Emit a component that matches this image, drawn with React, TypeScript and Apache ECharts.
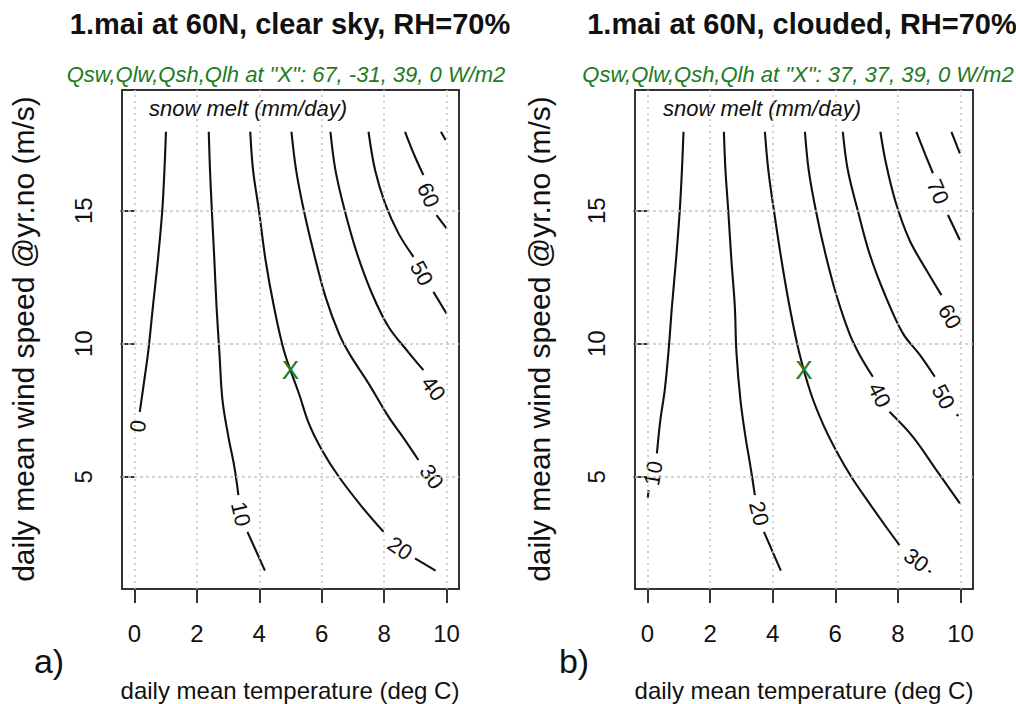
import React, { useEffect, useRef } from "react";
import * as echarts from "echarts";

// Axis ticks
const tempTicks = [0, 2, 4, 6, 8, 10];
const windTicks = [5, 10, 15];

// The "X" point (temperature, wind speed) used for the flux subtitle
const markerPoint = [5, 9];

// Panel a) clear sky: contour segments of snow melt, [temperature, wind speed]
const clear0 = [[1.01, 17.97], [0.96, 16.53], [0.89, 15.0], [0.75, 13.15], [0.59, 11.39], [0.44, 9.7], [0.33, 8.76], [0.17, 7.44]];
const clear10a = [[2.38, 17.97], [2.42, 16.53], [2.48, 15.0], [2.56, 13.15], [2.63, 11.39], [2.72, 9.7], [2.82, 7.88], [3.01, 6.5], [3.2, 5.38], [3.33, 4.31]];
const clear10b = [[3.62, 2.93], [4.18, 1.47]];
const clear20a = [[3.71, 17.97], [3.8, 16.53], [3.99, 15.0], [4.2, 13.15], [4.47, 11.39], [4.8, 9.7], [5.27, 8.13], [5.59, 7.0], [6.01, 6.0], [6.55, 5.0], [7.29, 3.87], [7.98, 2.93]];
const clear20b = [[8.99, 1.93], [9.65, 1.47]];
const clear30 = [[5.03, 17.97], [5.18, 16.53], [5.43, 15.0], [5.75, 13.4], [6.12, 11.77], [6.55, 10.39], [6.9, 9.6], [7.5, 8.51], [8.14, 7.26], [8.67, 6.38], [9.1, 5.63]];
const clear40 = [[6.28, 17.97], [6.44, 16.53], [6.74, 15.0], [7.13, 13.4], [7.61, 11.89], [8.14, 10.64], [8.8, 9.65], [9.26, 9.01]];
const clear50a = [[7.5, 17.97], [7.71, 16.53], [8.03, 15.28], [8.46, 14.15], [8.94, 13.27]];
const clear50b = [[9.58, 11.95], [10.0, 11.14]];
const clear60a = [[8.67, 17.97], [8.99, 17.03], [9.26, 16.34]];
const clear60b = [[9.68, 14.84], [10.0, 14.34]];
const clear70 = [[9.82, 17.97], [9.97, 17.66]];

// Contour labels [temperature, wind speed, melt level]
const clearLabels = [[0.11, 6.9, 0], [3.41, 3.6, 10], [8.51, 2.31, 20], [9.52, 5.0, 30], [9.58, 8.32, 40], [9.2, 12.65, 50], [9.42, 15.59, 60]];
const clearLabelAngles = [82, -77, -34, -55, -53, -62, -66];

// Panel b) clouded
const cloud10a = [[1.15, 17.97], [1.1, 16.53], [1.03, 15.0], [0.91, 13.15], [0.78, 11.39], [0.67, 9.7], [0.55, 8.26], [0.41, 7.13], [0.3, 5.88]];
const cloud10b = [[0.03, 4.5], [0.01, 4.19]];
const cloud20a = [[2.44, 17.97], [2.49, 16.53], [2.58, 15.0], [2.68, 13.15], [2.79, 11.39], [2.84, 9.7], [2.97, 7.88], [3.13, 6.5], [3.29, 5.38], [3.43, 4.31]];
const cloud20b = [[3.72, 2.93], [4.26, 1.47]];
const cloud30a = [[3.75, 17.97], [3.86, 16.53], [4.04, 15.0], [4.28, 13.15], [4.54, 11.39], [4.84, 9.7], [5.22, 8.13], [5.6, 7.0], [6.02, 6.0], [6.51, 5.0], [7.09, 4.0], [7.62, 3.12], [8.05, 2.43]];
const cloud30b = [[8.98, 1.47], [9.05, 1.41]];
const cloud40a = [[5.03, 17.97], [5.15, 16.53], [5.38, 15.0], [5.68, 13.4], [6.02, 11.89], [6.45, 10.39], [6.77, 9.6], [7.2, 8.76]];
const cloud40b = [[7.73, 7.44], [8.48, 6.5], [9.23, 5.25], [9.98, 4.0]];
const cloud50a = [[6.24, 17.97], [6.4, 16.53], [6.72, 15.0], [7.09, 13.4], [7.57, 11.89], [8.16, 10.39], [8.69, 9.6], [9.18, 8.76]];
const cloud50b = [[9.88, 7.35], [9.93, 7.28]];
const cloud60 = [[7.44, 17.97], [7.62, 16.78], [7.94, 15.28], [8.37, 13.9], [8.91, 12.77], [9.39, 11.83]];
const cloud70a = [[8.59, 17.97], [8.86, 17.16], [9.12, 16.41]];
const cloud70b = [[9.6, 14.84], [9.98, 13.9]];
const cloud80 = [[9.71, 17.97], [9.98, 17.16]];

const cloudLabels = [[0.19, 5.13, 10], [3.56, 3.62, 20], [8.59, 1.87, 30], [7.41, 8.07, 40], [9.45, 8.01, 50], [9.66, 11.02, 60], [9.28, 15.71, 70]];
const cloudLabelAngles = [80, -76, -37, -63, -62, -60, -67];

const clearSegments = [clear0, clear10a, clear10b, clear20a, clear20b, clear30, clear40, clear50a, clear50b, clear60a, clear60b, clear70];
const cloudSegments = [cloud10a, cloud10b, cloud20a, cloud20b, cloud30a, cloud30b, cloud40a, cloud40b, cloud50a, cloud50b, cloud60, cloud70a, cloud70b, cloud80];

const FONT = '"Liberation Sans", Arial, Helvetica, sans-serif';
const INK = "#111111";
const GREEN = "#217a21";

function panelSeries(idx: number, segments: number[][][], labels: number[][], angles: number[]) {
  const series: any[] = [];
  // dotted reference grid at the tick positions
  series.push({
    type: "line",
    xAxisIndex: idx,
    yAxisIndex: idx,
    data: [],
    z: 1,
    silent: true,
    markLine: {
      silent: true,
      symbol: "none",
      label: { show: false },
      lineStyle: { color: "#c4c4c4", width: 1.5, type: [2, 4] },
      emphasis: { disabled: true },
      data: [
        ...tempTicks.map((v) => ({ xAxis: v })),
        ...windTicks.map((v) => ({ yAxis: v, lineStyle: { type: [3, 3] } })),
      ],
    },
  });
  segments.forEach((seg) => {
    series.push({
      type: "line",
      xAxisIndex: idx,
      yAxisIndex: idx,
      data: seg,
      smooth: 0.35,
      symbol: "none",
      silent: true,
      z: 3,
      lineStyle: { color: INK, width: 2.1 },
    });
  });
  series.push({
    type: "scatter",
    xAxisIndex: idx,
    yAxisIndex: idx,
    symbolSize: 0,
    silent: true,
    z: 4,
    itemStyle: { opacity: 1 },
    data: labels.map((l, i) => ({
      value: l,
      label: { rotate: angles[i] },
    })),
    label: {
      show: true,
      position: "inside",
      formatter: (p: any) => String(p.value[2]),
      fontSize: 22,
      fontFamily: FONT,
      color: INK,
    },
  });
  series.push({
    type: "scatter",
    xAxisIndex: idx,
    yAxisIndex: idx,
    symbolSize: 0,
    silent: true,
    z: 5,
    itemStyle: { opacity: 1 },
    data: [markerPoint],
    label: {
      show: true,
      position: "inside",
      formatter: "X",
      fontSize: 26,
      fontFamily: FONT,
      color: GREEN,
    },
  });
  return series;
}

function axisPair(idx: number) {
  const x = {
    type: "value",
    gridIndex: idx,
    min: -0.4,
    max: 10.4,
    axisLine: { show: false },
    splitLine: { show: false },
    axisTick: { show: true, inside: false, length: 14, customValues: tempTicks, lineStyle: { color: "#333", width: 2 } },
    axisLabel: { show: true, customValues: tempTicks, margin: 32, fontSize: 24, fontFamily: FONT, color: INK },
  };
  const y = {
    type: "value",
    gridIndex: idx,
    min: 0.78,
    max: 19.54,
    axisLine: { show: false },
    splitLine: { show: false },
    axisTick: { show: true, inside: false, length: 14, customValues: windTicks, lineStyle: { color: "#333", width: 2 } },
    axisLabel: { show: true, customValues: windTicks, rotate: 90, margin: 27, fontSize: 24, fontFamily: FONT, color: INK },
  };
  return { x, y };
}

function txt(text: string, x: number, y: number, size: number, opts: any = {}) {
  return {
    type: "text",
    x,
    y,
    rotation: opts.rotation || 0,
    silent: true,
    style: {
      text,
      fontSize: size,
      fontFamily: FONT,
      fontWeight: opts.bold ? "bold" : "normal",
      fontStyle: opts.italic ? "italic" : "normal",
      fill: opts.color || INK,
      align: opts.align || "center",
      verticalAlign: "middle",
    },
  };
}

export default function App() {
  const ref = useRef<HTMLDivElement>(null);

  useEffect(() => {
    if (!ref.current) return;
    const chart = echarts.init(ref.current, null, { renderer: "svg" });
    const a = axisPair(0);
    const b = axisPair(1);
    chart.setOption({
      animation: false,
      backgroundColor: "#ffffff",
      grid: [
        { left: 122, top: 90, width: 337, height: 499, show: true, borderColor: "#333", borderWidth: 2, backgroundColor: "transparent" },
        { left: 635, top: 90, width: 338, height: 499, show: true, borderColor: "#333", borderWidth: 2, backgroundColor: "transparent" },
      ],
      xAxis: [a.x, b.x],
      yAxis: [a.y, b.y],
      series: [
        ...panelSeries(0, clearSegments, clearLabels, clearLabelAngles),
        ...panelSeries(1, cloudSegments, cloudLabels, cloudLabelAngles),
      ],
      graphic: [
        txt("1.mai at 60N, clear sky, RH=70%", 290, 24, 29, { bold: true }),
        txt("1.mai at 60N, clouded, RH=70%", 802, 24, 29, { bold: true }),
        txt('Qsw,Qlw,Qsh,Qlh at "X": 67, -31, 39, 0 W/m2', 286, 74, 22, { italic: true, color: GREEN }),
        txt('Qsw,Qlw,Qsh,Qlh at "X": 37, 37, 39, 0 W/m2', 798, 74, 22, { italic: true, color: GREEN }),
        txt("snow melt (mm/day)", 149, 108, 22, { italic: true, align: "left" }),
        txt("snow melt (mm/day)", 663, 108, 22, { italic: true, align: "left" }),
        txt("daily mean temperature (deg C)", 290, 690, 24),
        txt("daily mean temperature (deg C)", 804, 690, 24),
        txt("daily mean wind speed @yr.no (m/s)", 23, 339, 30, { rotation: Math.PI / 2 }),
        txt("daily mean wind speed @yr.no (m/s)", 539, 339, 30, { rotation: Math.PI / 2 }),
        txt("a)", 49, 661, 34),
        txt("b)", 574, 661, 34),
      ],
    });
    return () => chart.dispose();
  }, []);

  return (
    <div
      ref={ref}
      style={{ position: "fixed", left: 0, top: 0, width: 1016, height: 704, background: "#fff" }}
    />
  );
}
